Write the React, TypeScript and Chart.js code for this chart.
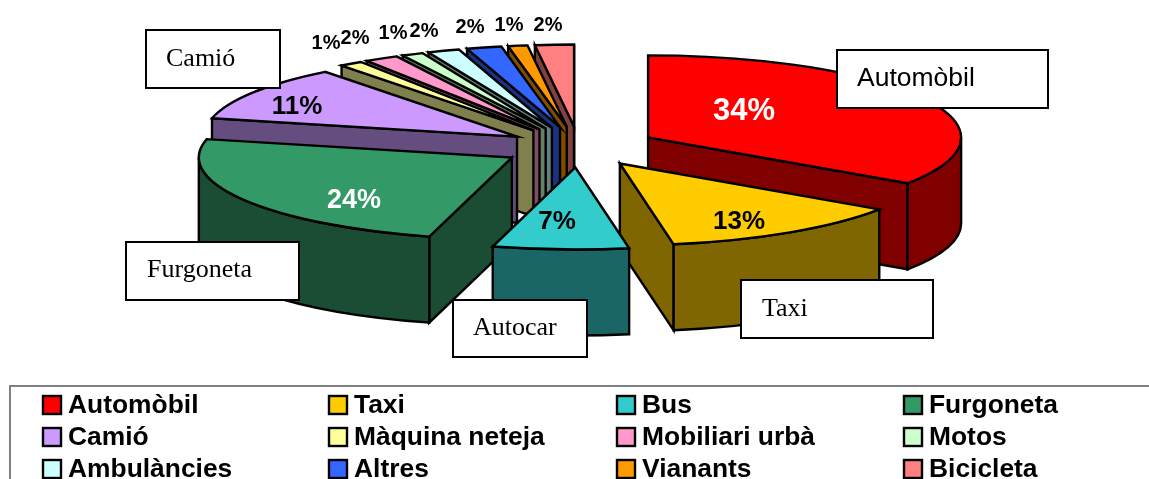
import React, { useEffect, useRef } from "react";
import { Chart, registerables } from "chart.js";

Chart.register(...registerables);

const categories = ["Automòbil", "Taxi", "Bus", "Furgoneta", "Camió", "Màquina neteja", "Mobiliari urbà", "Motos", "Ambulàncies", "Altres", "Vianants", "Bicicleta"];
const shares = [34.45, 12.8, 7, 24.35, 10.9, 1.2, 1.75, 1.1, 1.65, 1.8, 1, 2];
const sliceColors = ["#FF0000", "#FFCC00", "#33CCCC", "#339966", "#CC99FF", "#FFFF99", "#FF99CC", "#CCFFCC", "#CCFFFF", "#3366FF", "#FF9900", "#FF8080"];
const wallColors = ["#800000", "#806600", "#1A6666", "#1A4D33", "#664D80", "#80804D", "#804D66", "#668066", "#668080", "#1A3380", "#804D00", "#804040"];

// Layout of the annotation layer (not data)
const PIE = { cx: 579, cy: 147, rx: 313, ry: 82, depth: 86 };
const explodeBy = [0.25, 0.24, 0.25, 0.25, 0.235, 0.25, 0.25, 0.25, 0.25, 0.25, 0.25, 0.25];
const paintOrder = [0, 11, 10, 9, 8, 7, 6, 5, 4, 3, 1, 2];
const SANS = '"Liberation Sans", Arial, sans-serif';
const SERIF = '"Liberation Serif", "Times New Roman", serif';
const valueLabels: [number, number, number, string][] = [
  [744, 111, 31, "#FFFFFF"], [739, 222, 26, "#000000"], [557, 222, 26, "#000000"], [354, 201, 27, "#FFFFFF"],
  [297, 107, 26, "#000000"], [326, 43, 20, "#000000"], [355, 38, 20, "#000000"], [393, 33, 20, "#000000"],
  [424, 31, 20, "#000000"], [470, 27, 20, "#000000"], [509, 25, 20, "#000000"], [548, 25, 20, "#000000"],
];
const callouts: { text: string; box: [number, number, number, number]; tx: number; ty: number; font: string }[] = [
  { text: "Camió", box: [146, 30, 280, 88], tx: 166, ty: 66, font: `26px ${SERIF}` },
  { text: "Automòbil", box: [837, 50, 1048, 108], tx: 857, ty: 86, font: `26.5px ${SANS}` },
  { text: "Taxi", box: [741, 280, 933, 338], tx: 762, ty: 316, font: `26px ${SERIF}` },
  { text: "Furgoneta", box: [126, 242, 299, 300], tx: 147, ty: 277, font: `26px ${SERIF}` },
  { text: "Autocar", box: [453, 300, 587, 357], tx: 473, ty: 335, font: `26px ${SERIF}` },
];
const legendCols = [43, 329, 617, 904];
const legendRows = [405, 437, 469];

const pie3d = {
  id: "pie3d",
  beforeDatasetsDraw(chart: any) {
    const ctx: CanvasRenderingContext2D = chart.ctx;
    const arcs = chart.getDatasetMeta(0).data;
    ctx.save();
    ctx.lineWidth = 2.4;
    ctx.lineJoin = "miter";
    ctx.strokeStyle = "#000";
    for (const i of paintOrder) {
      const { startAngle: s, endAngle: e } = arcs[i].getProps(["startAngle", "endAngle"], true);
      const mid = (s + e) / 2;
      const ax = PIE.cx + PIE.rx * explodeBy[i] * Math.cos(mid);
      const ay = PIE.cy + PIE.ry * explodeBy[i] * Math.sin(mid);
      const at = (t: number): [number, number] => [ax + PIE.rx * Math.cos(t), ay + PIE.ry * Math.sin(t)];
      const paint = (fill: string) => {
        ctx.closePath();
        ctx.fillStyle = fill;
        ctx.fill();
        ctx.stroke();
      };
      const radialWall = (t: number) => {
        const [px, py] = at(t);
        ctx.beginPath();
        ctx.moveTo(ax, ay);
        ctx.lineTo(px, py);
        ctx.lineTo(px, py + PIE.depth);
        ctx.lineTo(ax, ay + PIE.depth);
        paint(wallColors[i]);
      };
      if (Math.cos(s) < 0) radialWall(s);
      if (Math.cos(e) > 0) radialWall(e);
      const from = Math.max(s, 0);
      const to = Math.min(e, Math.PI);
      if (to > from) {
        ctx.beginPath();
        ctx.ellipse(ax, ay, PIE.rx, PIE.ry, 0, from, to);
        ctx.ellipse(ax, ay + PIE.depth, PIE.rx, PIE.ry, 0, to, from, true);
        paint(wallColors[i]);
      }
      ctx.beginPath();
      ctx.moveTo(ax, ay);
      ctx.ellipse(ax, ay, PIE.rx, PIE.ry, 0, s, e);
      paint(sliceColors[i]);
    }
    ctx.restore();
    return false;
  },
  afterDraw(chart: any) {
    const ctx: CanvasRenderingContext2D = chart.ctx;
    ctx.save();
    ctx.textBaseline = "middle";
    ctx.textAlign = "center";
    shares.forEach((v, i) => {
      const [x, y, size, color] = valueLabels[i];
      ctx.font = `bold ${size}px ${SANS}`;
      ctx.fillStyle = color;
      ctx.fillText(`${Math.round(v)}%`, x, y);
    });
    ctx.textAlign = "left";
    ctx.textBaseline = "alphabetic";
    ctx.lineWidth = 2;
    for (const c of callouts) {
      const [x0, y0, x1, y1] = c.box;
      ctx.fillStyle = "#FFFFFF";
      ctx.strokeStyle = "#000000";
      ctx.fillRect(x0, y0, x1 - x0, y1 - y0);
      ctx.strokeRect(x0, y0, x1 - x0, y1 - y0);
      ctx.fillStyle = "#000000";
      ctx.font = c.font;
      ctx.fillText(c.text, c.tx, c.ty);
    }
    ctx.strokeStyle = "#808080";
    ctx.beginPath();
    ctx.moveTo(10, 479);
    ctx.lineTo(10, 386);
    ctx.lineTo(1149, 386);
    ctx.stroke();
    ctx.textBaseline = "middle";
    ctx.font = `bold 26.4px ${SANS}`;
    ctx.lineWidth = 2.4;
    categories.forEach((name, i) => {
      const x = legendCols[i % 4];
      const y = legendRows[Math.floor(i / 4)];
      ctx.fillStyle = sliceColors[i];
      ctx.strokeStyle = "#000000";
      ctx.fillRect(x, y - 9, 18, 18);
      ctx.strokeRect(x, y - 9, 18, 18);
      ctx.fillStyle = "#000000";
      ctx.fillText(name, x + 25, y + 1);
    });
    ctx.restore();
  },
};

export default function App() {
  const ref = useRef<HTMLCanvasElement>(null);
  useEffect(() => {
    const chart = new Chart(ref.current!, {
      type: "pie",
      data: { labels: categories, datasets: [{ data: shares, backgroundColor: sliceColors }] },
      options: {
        responsive: false,
        animation: false,
        plugins: { legend: { display: false }, tooltip: { enabled: false } },
      },
      plugins: [pie3d],
    } as any);
    return () => chart.destroy();
  }, []);
  return (
    <canvas
      ref={ref}
      width={1149}
      height={479}
      style={{ position: "absolute", left: 0, top: 0, display: "block", background: "#fff" }}
    />
  );
}
